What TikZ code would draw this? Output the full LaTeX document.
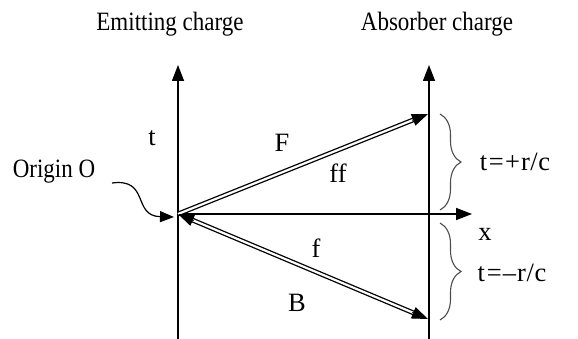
\documentclass[tikz,border=0pt]{standalone}
\usepackage{graphicx}
\usepackage{fontspec}
\setmainfont{Liberation Serif}
\usetikzlibrary{arrows.meta,decorations.pathreplacing,calc}
\newcommand\tallt[1]{\scalebox{1}[1.15]{#1}}
\newcommand\widet[1]{\scalebox{1.15}[1.15]{#1}}
\begin{document}
\begin{tikzpicture}[x=1pt,y=-1pt,
  lbl/.style={font=\fontsize{23}{26}\selectfont, inner sep=0pt},
  axis/.style={line width=1.4pt},
  axtip/.style={-{Triangle[width=12pt,length=16pt]}},
  dline/.style={double, double distance=2.2pt, line width=1.3pt},
  dtip/.style={-{Triangle[width=12pt,length=16pt]}, line width=1pt},
  brc/.style={decorate, decoration={brace, amplitude=21pt, aspect=0.5}, line width=1.1pt, draw=black!70}]
\useasboundingbox (0,0) rectangle (578,339);
% coordinates
\coordinate (O) at (178,214);
\coordinate (LB) at (178,339);
\coordinate (LT) at (178,65);
\coordinate (RB) at (429,339);
\coordinate (RT) at (429,65);
\coordinate (XE) at (472,214);
\coordinate (P) at (428,114);
\coordinate (Q) at (428,319);
\coordinate (C0) at (112,183);
\coordinate (C1) at (174,217);
% axes
\draw[axis,axtip] (LB) -- (LT);
\draw[axis,axtip] (RB) -- (RT);
\draw[axis,axtip] (O) -- (XE);
% double arrows
\draw[dline, shorten >=14pt] (O) -- (P);
\draw[dtip] ($(P)!17pt!(O)$) -- (P);
\draw[dline, shorten >=14pt, shorten <=14pt] (O) -- (Q);
\draw[dtip] ($(Q)!17pt!(O)$) -- (Q);
\draw[dtip] ($(O)!17pt!(Q)$) -- (O);
% curly arrow
\draw[line width=1.2pt, -{Triangle[width=11pt,length=14pt]}] (C0) .. controls (150,178) and (132,216) .. (C1);
% braces
\draw[brc] (440,114) -- (440,210);
\draw[brc] (440,223) -- (440,320);
% labels
\node[lbl] (em) at (170,24) {\tallt{Emitting charge}};
\node[lbl] (ab) at (437,24) {\tallt{Absorber charge}};
\node[lbl] (t) at (152,138) {\widet{t}};
\node[lbl] (Fl) at (282,143) {\widet{F}};
\node[lbl] (ff) at (338,173) {\widet{ff}};
\node[lbl] (fl) at (316,248) {\widet{f}};
\node[lbl] (Bl) at (297,303) {\widet{B}};
\node[lbl] (xl) at (485,234) {\widet{x}};
\node[lbl] (or) at (54,172) {\tallt{Origin O}};
\node[lbl] (tp) at (515,162) {\widet{t\kern1.5pt=\kern1pt+\kern1pt r\kern0.5pt/\kern0.5pt c}};
\node[lbl] (tm) at (512,273) {\widet{t\kern1.5pt=\kern1pt–\kern1pt r\kern0.5pt/\kern0.5pt c}};
\end{tikzpicture}
\end{document}
